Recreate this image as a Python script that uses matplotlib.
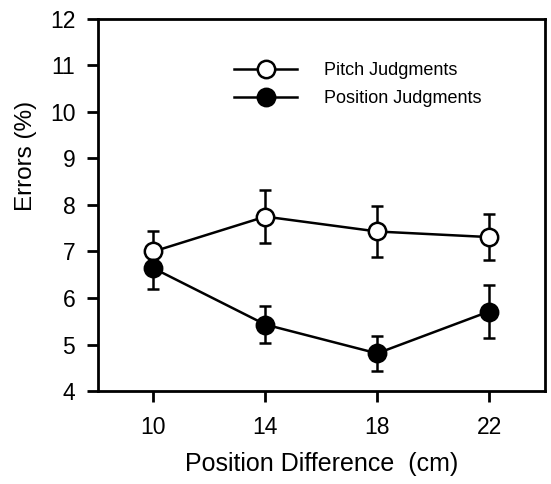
import matplotlib
matplotlib.use('Agg')
import matplotlib.pyplot as plt

plt.rcParams['font.family'] = ['Liberation Sans', 'DejaVu Sans']

# position difference (cm)
distances = [10, 14, 18, 22]

# error rates (%) and error bar half-lengths
pitch_errors = [7.0, 7.75, 7.43, 7.31]
pitch_sem = [0.43, 0.57, 0.55, 0.5]
position_errors = [6.64, 5.43, 4.81, 5.71]
position_sem = [0.45, 0.39, 0.37, 0.56]

series_labels = ['Pitch Judgments', 'Position Judgments']
y_ticks = [4, 5, 6, 7, 8, 9, 10, 11, 12]


fig = plt.figure(figsize=(5.51, 4.84), dpi=100)
ax = fig.add_axes([0.177, 0.192, 0.812, 0.769])

# error bars first so the markers sit on top of them
ax.errorbar(distances, pitch_errors, yerr=pitch_sem, fmt='none', ecolor='black',
            elinewidth=1.8, capsize=4.5, capthick=1.8, zorder=2)
ax.errorbar(distances, position_errors, yerr=position_sem, fmt='none', ecolor='black',
            elinewidth=1.8, capsize=4.5, capthick=1.8, zorder=2)

ax.plot(distances, pitch_errors, color='black', lw=1.8, marker='o', ms=12.5,
        mfc='white', mec='black', mew=1.8, label=series_labels[0], zorder=3)
ax.plot(distances, position_errors, color='black', lw=1.8, marker='o', ms=12.5,
        mfc='black', mec='black', mew=1.8, label=series_labels[1], zorder=3)

ax.set_xlim(8, 24)
ax.set_ylim(4, 12)
ax.set_xticks(distances)
ax.set_yticks(y_ticks)

for side in ['left', 'bottom', 'top', 'right']:
    ax.spines[side].set_linewidth(2)

ax.tick_params(axis='both', direction='out', length=8, width=2, labelsize=16.5)
ax.tick_params(axis='y', pad=8)
ax.tick_params(axis='x', pad=10)

ax.set_xlabel('Position Difference  (cm)', fontsize=18, va='top')
ax.xaxis.set_label_coords(0.5, -0.163)
ax.set_ylabel('Errors (%)', fontsize=17.5)
ax.yaxis.set_label_coords(-0.135, 0.632)

ax.legend(loc='upper left', bbox_to_anchor=(0.305, 0.884), frameon=False,
          fontsize=13, handlelength=3.5, handletextpad=1.5, labelspacing=0.6,
          borderpad=0, borderaxespad=0)

fig.savefig('out.png', dpi=100)
